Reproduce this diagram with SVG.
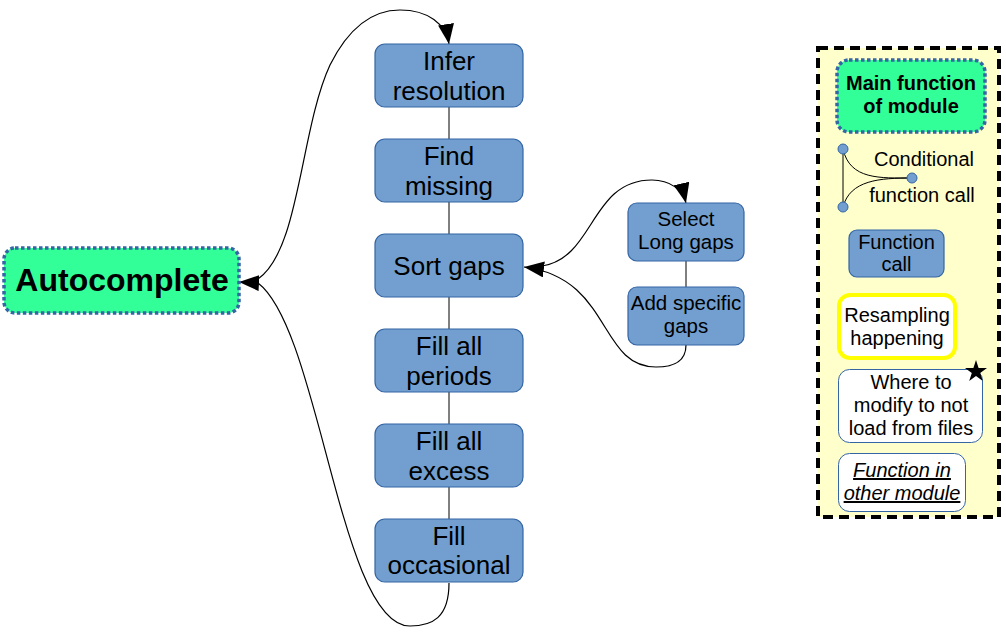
<svg xmlns="http://www.w3.org/2000/svg" width="1006" height="632" viewBox="0 0 1006 632">
<defs>
<style>
text{font-family:"Liberation Sans",Arial,sans-serif;fill:#000;text-anchor:middle}
.fn{fill:#729fcf;stroke:#3465a4;stroke-width:1.2}
.main{fill:#33ff99;stroke:#3465a4;stroke-width:3.5;stroke-dasharray:3.5 2.5}
.t26{font-size:26px}
.t20{font-size:20.5px}
.l20{font-size:20px}
.b{font-weight:bold}
.c{fill:none;stroke:#000;stroke-width:1.2}
.v{fill:none;stroke:#000;stroke-width:1}
.dot{fill:#729fcf;stroke:#3465a4;stroke-width:1}
</style>
<marker id="ah" markerUnits="userSpaceOnUse" markerWidth="22" markerHeight="16" refX="20" refY="8" orient="auto">
<path d="M0,0 L20,8 L0,16 Z" fill="#000"/>
</marker>
</defs>
<g id="legend">
<rect x="818" y="48" width="181" height="469" fill="#ffffcc" stroke="#000" stroke-width="4" stroke-dasharray="10 6"/>
</g>
<g id="connectors">
<line class="v" x1="449" y1="107" x2="449" y2="139"/>
<line class="v" x1="449" y1="202" x2="449" y2="234"/>
<line class="v" x1="449" y1="297" x2="449" y2="329"/>
<line class="v" x1="449" y1="392" x2="449" y2="424"/>
<line class="v" x1="449" y1="487" x2="449" y2="519"/>
<line class="v" x1="686" y1="261" x2="686" y2="287"/>
<path class="c" d="M258 279 C300 250 300 130 330 65 C350 25 375 10 400 10 C428 10 446 24 449 44" marker-end="url(#ah)"/>
<path class="c" d="M449 583 C449 618 432 626 410 626 C340 626 320 330 258 283 L239 282" marker-end="url(#ah)"/>
<path class="c" d="M542 266 C595 258 590 180 652 180 C670 180 683 190 686 203" marker-end="url(#ah)"/>
<path class="c" d="M686 345 C686 363 672 367 656 367 C598 367 612 278 524 267" marker-end="url(#ah)"/>
<path class="v" d="M843 149 L843 207 M843 149 C850 180 880 178 912 178 M843 207 C850 180 880 178 912 178"/>
</g>
<g id="autocomplete">
<rect class="main" x="4" y="248" width="235" height="65" rx="11"/>
<text class="b" x="122" y="291" style="font-size:32px">Autocomplete</text>
</g>
<g id="infer-resolution">
<rect class="fn" x="375" y="44" width="148" height="63" rx="10"/>
<text class="t26" x="449" y="70">Infer</text>
<text class="t26" x="449" y="99.5">resolution</text>
</g>
<g id="find-missing">
<rect class="fn" x="375" y="139" width="148" height="63" rx="10"/>
<text class="t26" x="449" y="165">Find</text>
<text class="t26" x="449" y="194.5">missing</text>
</g>
<g id="sort-gaps">
<rect class="fn" x="375" y="234" width="148" height="63" rx="10"/>
<text class="t26" x="449" y="275">Sort gaps</text>
</g>
<g id="fill-all-periods">
<rect class="fn" x="375" y="329" width="148" height="63" rx="10"/>
<text class="t26" x="449" y="355">Fill all</text>
<text class="t26" x="449" y="384.5">periods</text>
</g>
<g id="fill-all-excess">
<rect class="fn" x="375" y="424" width="148" height="63" rx="10"/>
<text class="t26" x="449" y="450">Fill all</text>
<text class="t26" x="449" y="479.5">excess</text>
</g>
<g id="fill-occasional">
<rect class="fn" x="375" y="519" width="148" height="63" rx="10"/>
<text class="t26" x="449" y="545">Fill</text>
<text class="t26" x="449" y="574">occasional</text>
</g>
<g id="select-long-gaps">
<rect class="fn" x="628" y="203" width="116" height="58" rx="9"/>
<text class="t20" x="686" y="226">Select</text>
<text class="t20" x="686" y="249">Long gaps</text>
</g>
<g id="add-specific-gaps">
<rect class="fn" x="628" y="287" width="116" height="58" rx="9"/>
<text class="t20" x="686" y="310">Add specific</text>
<text class="t20" x="686" y="333">gaps</text>
</g>
<g id="legend-main">
<rect class="main" x="837" y="60" width="148" height="72" rx="12"/>
<text class="l20 b" x="911" y="90">Main function</text>
<text class="l20 b" x="911" y="113">of module</text>
</g>
<g id="legend-conditional">
<circle class="dot" cx="843" cy="149" r="5"/>
<circle class="dot" cx="912" cy="178" r="5"/>
<circle class="dot" cx="843" cy="207" r="5"/>
<text class="l20" x="924" y="166">Conditional</text>
<text class="l20" x="922" y="202">function call</text>
</g>
<g id="legend-function-call">
<rect class="fn" x="849" y="230" width="95" height="47" rx="8"/>
<text class="l20" x="896.5" y="249">Function</text>
<text class="l20" x="896.5" y="271">call</text>
</g>
<g id="legend-resampling">
<rect x="839" y="295" width="116" height="63" rx="11" fill="#fff" stroke="#ffff00" stroke-width="4"/>
<text class="l20" x="897" y="322">Resampling</text>
<text class="l20" x="897" y="345">happening</text>
</g>
<g id="legend-modify">
<rect x="838.5" y="369.5" width="144" height="73" rx="11" fill="#fff" stroke="#3465a4" stroke-width="1"/>
<text class="l20" x="911" y="389">Where to</text>
<text class="l20" x="911" y="412">modify to not</text>
<text class="l20" x="911" y="435">load from files</text>
<path d="M976 360 L978.6 368 L987 368 L980.2 373 L982.8 381 L976 376 L969.2 381 L971.8 373 L965 368 L973.4 368 Z" fill="#000"/>
</g>
<g id="legend-other-module">
<rect x="838.5" y="453.5" width="127" height="58" rx="11" fill="#fff" stroke="#3465a4" stroke-width="1"/>
<text class="l20" x="902" y="477" font-style="italic" text-decoration="underline">Function in</text>
<text class="l20" x="902" y="500" font-style="italic" text-decoration="underline">other module</text>
</g>
</svg>
